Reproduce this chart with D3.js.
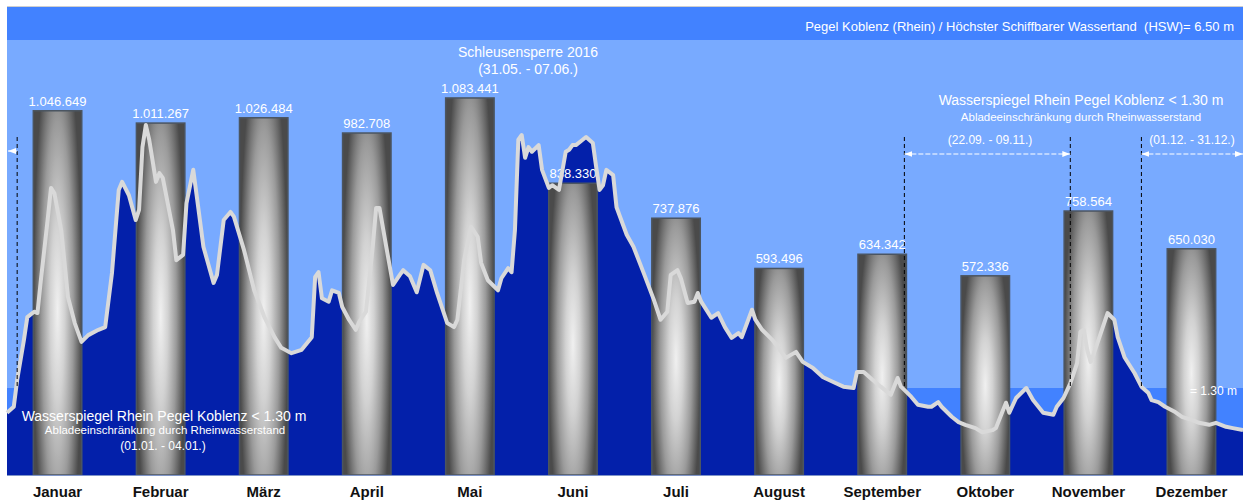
<!DOCTYPE html>
<html>
<head>
<meta charset="utf-8">
<script src="https://cdn.jsdelivr.net/npm/d3@7"></script>
<style>
  body { margin: 0; background: #fff; }
  svg { display: block; font-family: "Liberation Sans", Arial, sans-serif; }
  .monat { font-size: 15px; font-weight: bold; fill: #111; }
  .wert { font-size: 13px; fill: #fff; }
  .hinweis { fill: #fff; white-space: pre; }
</style>
</head>
<body>
<svg id="chart" width="1243" height="501"></svg>
<script>
// Umschlag je Monat (t)
const monate = ["Januar", "Februar", "März", "April", "Mai", "Juni", "Juli",
                "August", "September", "Oktober", "November", "Dezember"];
const tonnen = [1046649, 1011267, 1026484, 982708, 1083441, 838330, 737876,
                593496, 634342, 572336, 758564, 650030];

// Pegel Koblenz 2016: Tag im Jahr / Wasserstand in m
const pegelTag = [1, 3, 4, 6, 7, 9, 10, 11, 13, 14, 15, 17, 19, 21, 23, 25, 28, 30,
  32, 34, 35, 37, 39, 40, 41, 42, 43, 45, 46, 47, 50, 51, 53, 54, 56, 57, 59,
  62, 63, 65, 67, 68, 71, 74, 77, 80, 82, 85, 88, 91, 92, 93, 94, 96, 97, 99,
  100, 102, 104, 105, 107, 109, 110, 111, 113, 115, 117, 118, 120, 122, 124,
  126, 128, 131, 133, 134, 136, 138, 140, 141, 143, 146, 147, 149, 150, 151,
  152, 153, 154, 155, 156, 158, 159, 161, 162, 164, 166, 167, 168, 169, 171,
  172, 174, 175, 176, 177, 178, 180, 181, 184, 186, 189, 192, 194, 196, 197,
  199, 200, 202, 204, 205, 206, 209, 211, 213, 215, 217, 218, 221, 222, 224,
  227, 231, 234, 236, 239, 242, 245, 248, 251, 252, 254, 256, 259, 262, 264,
  265, 268, 270, 273, 274, 276, 277, 280, 282, 284, 287, 289, 292, 293, 296,
  297, 299, 302, 304, 307, 310, 311, 313, 315, 317, 318, 319, 320, 321, 322,
  324, 326, 328, 329, 331, 334, 336, 338, 339, 341, 343, 346, 348, 351, 353,
  356, 358, 361, 363, 366];
const pegelStand = [0.93, 1.02, 1.42, 2.02, 2.36, 2.44, 2.42, 2.91, 3.81, 4.29, 4.21,
  3.66, 2.66, 2.27, 1.99, 2.09, 2.17, 2.21, 3.02, 4.26, 4.38, 4.18, 3.81, 3.96,
  4.90, 5.23, 5.01, 4.38, 4.51, 4.44, 3.66, 3.21, 3.29, 4.06, 4.56, 4.18, 3.41,
  2.87, 2.99, 3.81, 3.93, 3.86, 3.36, 2.76, 2.36, 2.06, 1.90, 1.82, 1.87, 2.06,
  2.96, 3.03, 2.64, 2.59, 2.76, 2.72, 2.51, 2.32, 2.17, 2.29, 2.44, 3.41, 3.99,
  3.99, 3.41, 2.84, 2.99, 3.06, 2.97, 2.73, 3.14, 3.06, 2.72, 2.27, 2.21, 2.32,
  3.21, 3.71, 3.56, 3.17, 2.91, 2.76, 2.94, 3.09, 3.03, 3.66, 5.01, 5.08, 4.74,
  4.90, 4.83, 4.93, 4.56, 4.29, 4.33, 4.26, 4.83, 4.86, 4.93, 4.93, 5.01, 5.05,
  4.96, 4.60, 4.26, 4.33, 4.56, 4.48, 4.00, 3.59, 3.41, 3.02, 2.62, 2.32, 2.44,
  2.99, 3.06, 2.94, 2.57, 2.59, 2.72, 2.59, 2.35, 2.42, 2.21, 2.05, 2.12, 2.06,
  2.47, 2.32, 2.17, 2.02, 1.75, 1.84, 1.69, 1.60, 1.46, 1.39, 1.32, 1.30, 1.54,
  1.54, 1.45, 1.32, 1.20, 1.45, 1.32, 1.17, 1.05, 1.02, 1.02, 1.09, 1.02, 0.87,
  0.79, 0.75, 0.70, 0.64, 0.67, 0.70, 1.08, 0.93, 1.15, 1.30, 1.12, 0.93, 0.90,
  1.02, 1.15, 1.37, 1.67, 2.14, 2.17, 1.87, 1.69, 1.82, 2.12, 2.42, 2.32, 2.06,
  1.76, 1.52, 1.32, 1.23, 1.12, 1.09, 1.02, 0.94, 0.87, 0.82, 0.78, 0.75, 0.78,
  0.72, 0.70, 0.67];

const hsw = 6.5;          // höchster schiffbarer Wasserstand
const grenze = 1.3;       // Abladeeinschränkung
const sperrTage = [4, 266, 315, 336];   // 04.01. / 22.09. / 09.11. / 01.12.

const plot = {left: 7, right: 1243, top: 40, bottom: 475, head: 7};

const de = d3.formatLocale({decimal: ",", thousands: ".", grouping: [3], currency: ["", " €"]});
const formatTonnen = de.format(",d");

let x = d3.scaleLinear().domain([1, 366]).range([plot.left, plot.right]);
let yPegel = d3.scaleLinear().domain([0, hsw]).range([plot.bottom, plot.top]);
let yTonnen = d3.scaleLinear().domain([0, 1250000]).range([plot.bottom, plot.top]);
let xMonat = d3.scaleBand()
               .domain(monate)
               .range([6, 1243])
               .paddingInner(0.53)
               .paddingOuter(0.265);

let pegel = pegelTag.map((t, i) => ({tag: t, stand: pegelStand[i]}));

let svg = d3.select("#chart");

let defs = svg.append("defs");
let grad = defs.append("radialGradient")
               .attr("id", "saeule")
               .attr("cx", 0.5).attr("cy", 0.55).attr("r", 0.5)
               .attr("gradientTransform", "translate(0.5,0.55) scale(1,1.6) translate(-0.5,-0.55)");
[[0, "#f0f0f0"], [0.3, "#d2d2d2"], [0.65, "#9a9a9a"], [1, "#4a4a4a"]].forEach(s => {
  grad.append("stop").attr("offset", s[0]).attr("stop-color", s[1]);
});

["start", "end"].forEach(k => {
  defs.append("marker")
      .attr("id", "pfeil-" + k)
      .attr("viewBox", "0 0 8 8")
      .attr("refX", k === "end" ? 8 : 0).attr("refY", 4)
      .attr("markerWidth", 8).attr("markerHeight", 8)
      .attr("markerUnits", "userSpaceOnUse")
      .attr("orient", "auto")
      .append("path")
      .attr("d", k === "end" ? "M0,1 L8,4 L0,7 Z" : "M8,1 L0,4 L8,7 Z")
      .attr("fill", "#fff");
});

// Hintergrund
svg.append("rect")
   .attr("x", plot.left).attr("y", plot.top)
   .attr("width", plot.right - plot.left).attr("height", plot.bottom - plot.top)
   .attr("fill", "#78aaff");

svg.append("rect")
   .attr("x", plot.left).attr("y", plot.head)
   .attr("width", plot.right - plot.left).attr("height", plot.top - plot.head)
   .attr("fill", "#4282ff");

svg.append("line")
   .attr("x1", plot.left).attr("x2", plot.right)
   .attr("y1", plot.head - 0.5).attr("y2", plot.head - 0.5)
   .attr("stroke", "#cfcfcf");

// Band unter 1.30 m
svg.append("rect")
   .attr("x", plot.left).attr("y", yPegel(grenze))
   .attr("width", plot.right - plot.left).attr("height", plot.bottom - yPegel(grenze))
   .attr("fill", "#4282ff");

// Wasserstand als Fläche
svg.append("path")
   .datum(pegel)
   .attr("fill", "#0320aa")
   .attr("d", d3.area()
                .x(d => x(d.tag))
                .y0(plot.bottom)
                .y1(d => yPegel(d.stand)));

// Säulen
svg.selectAll(".saeule")
   .data(monate)
   .enter().append("rect")
   .attr("class", "saeule")
   .attr("x", d => xMonat(d))
   .attr("y", (d, i) => yTonnen(tonnen[i]))
   .attr("width", xMonat.bandwidth())
   .attr("height", (d, i) => plot.bottom - yTonnen(tonnen[i]))
   .attr("fill", "url(#saeule)")
   .attr("stroke", "#4b5561")
   .attr("stroke-width", 1.5);

svg.selectAll(".wert")
   .data(monate)
   .enter().append("text")
   .attr("class", "wert")
   .attr("x", d => xMonat(d) + xMonat.bandwidth() / 2)
   .attr("y", (d, i) => yTonnen(tonnen[i]) - 5)
   .attr("text-anchor", "middle")
   .text((d, i) => formatTonnen(tonnen[i]));

// Pegellinie
svg.append("path")
   .datum(pegel)
   .attr("fill", "none")
   .attr("stroke", "#d9d9d9")
   .attr("stroke-width", 4)
   .attr("stroke-linejoin", "round")
   .attr("d", d3.line()
                .x(d => x(d.tag))
                .y(d => yPegel(d.stand)));

// Sperrzeiten
svg.selectAll(".sperre")
   .data(sperrTage)
   .enter().append("line")
   .attr("class", "sperre")
   .attr("x1", d => x(d)).attr("x2", d => x(d))
   .attr("y1", 137).attr("y2", yPegel(grenze))
   .attr("stroke", "#000")
   .attr("stroke-dasharray", "4,3");

let pfeile = [
  {x1: x(sperrTage[0]), x2: plot.left + 1, y: 151, start: false},
  {x1: x(sperrTage[1]), x2: x(sperrTage[2]), y: 154, start: true},
  {x1: x(sperrTage[3]), x2: plot.right, y: 154, start: true}
];
pfeile.forEach(p => {
  svg.append("line")
     .attr("x1", p.x1).attr("x2", p.x2)
     .attr("y1", p.y).attr("y2", p.y)
     .attr("stroke", "#fff")
     .attr("stroke-dasharray", "5,2")
     .attr("marker-end", "url(#pfeil-end)")
     .attr("marker-start", p.start ? "url(#pfeil-start)" : null);
});

// Rand unten
svg.append("line")
   .attr("x1", plot.left).attr("x2", plot.right)
   .attr("y1", plot.bottom + 0.5).attr("y2", plot.bottom + 0.5)
   .attr("stroke", "#7f95c8");

// Beschriftungen
function hinweis(tx, ty, size, text) {
  svg.append("text")
     .attr("class", "hinweis")
     .attr("x", tx).attr("y", ty)
     .attr("text-anchor", "middle")
     .style("font-size", size + "px")
     .text(text);
}

svg.append("text")
   .attr("class", "hinweis")
   .attr("x", 1234).attr("y", 31)
   .attr("text-anchor", "end")
   .style("font-size", "13px")
   .text("Pegel Koblenz (Rhein) / Höchster Schiffbarer Wassertand  (HSW)= 6.50 m");

hinweis(528, 57, 14, "Schleusensperre 2016");
hinweis(528, 74, 14, "(31.05. - 07.06.)");

hinweis(1081, 105, 14, "Wasserspiegel Rhein Pegel Koblenz < 1.30 m");
hinweis(1081, 121, 11.5, "Abladeeinschränkung durch Rheinwasserstand");
hinweis(990, 144, 12, "(22.09. - 09.11.)");
hinweis(1192, 144, 12, "(01.12. - 31.12.)");

hinweis(164, 421, 14, "Wasserspiegel Rhein Pegel Koblenz < 1.30 m");
hinweis(165, 434, 11.5, "Abladeeinschränkung durch Rheinwasserstand");
hinweis(163, 450, 12, "(01.01. - 04.01.)");

svg.append("text")
   .attr("class", "hinweis")
   .attr("x", 1237).attr("y", yPegel(grenze) + 7)
   .attr("text-anchor", "end")
   .style("font-size", "12px")
   .text("= 1.30 m");

// Monate
svg.selectAll(".monat")
   .data(monate)
   .enter().append("text")
   .attr("class", "monat")
   .attr("x", d => xMonat(d) + xMonat.bandwidth() / 2)
   .attr("y", 497)
   .attr("text-anchor", "middle")
   .text(d => d);
</script>
</body>
</html>
